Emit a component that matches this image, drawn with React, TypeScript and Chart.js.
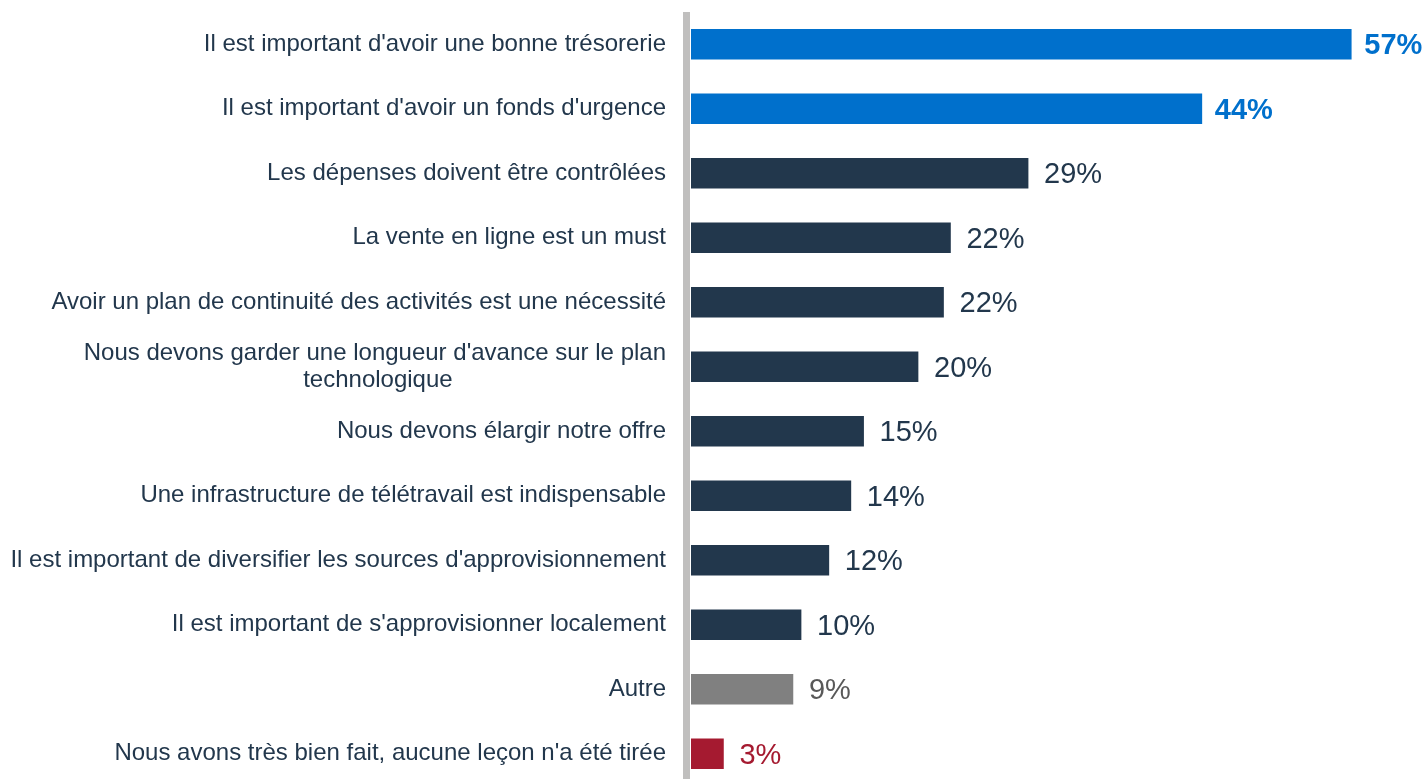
import React, { useEffect, useRef } from "react";
import { Chart, registerables } from "chart.js";

Chart.register(...registerables);

const categories: (string | string[])[] = [
  "Il est important d'avoir une bonne trésorerie",
  "Il est important d'avoir un fonds d'urgence",
  "Les dépenses doivent être contrôlées",
  "La vente en ligne est un must",
  "Avoir un plan de continuité des activités est une nécessité",
  ["Nous devons garder une longueur d'avance sur le plan", "technologique"],
  "Nous devons élargir notre offre",
  "Une infrastructure de télétravail est indispensable",
  "Il est important de diversifier les sources d'approvisionnement",
  "Il est important de s'approvisionner localement",
  "Autre",
  "Nous avons très bien fait, aucune leçon n'a été tirée",
];

const values: number[] = [57, 44.1, 29.1, 22.4, 21.8, 19.6, 14.9, 13.8, 11.9, 9.5, 8.8, 2.8];

const barColors: string[] = [
  "#0070CC", "#0070CC",
  "#22374C", "#22374C", "#22374C", "#22374C", "#22374C", "#22374C", "#22374C", "#22374C",
  "#808080",
  "#A51A30",
];

const labelColors: string[] = [
  "#0070CC", "#0070CC",
  "#22374C", "#22374C", "#22374C", "#22374C", "#22374C", "#22374C", "#22374C", "#22374C",
  "#595959",
  "#A51A30",
];

const boldLabels: boolean[] = [true, true, false, false, false, false, false, false, false, false, false, false];

const FONT = "'Liberation Sans', Arial, Helvetica, sans-serif";

function centerLines(label: string | string[], font: string): string | string[] {
  if (!Array.isArray(label)) return label;
  const c = document.createElement("canvas").getContext("2d")!;
  c.font = font;
  const widths = label.map((l) => c.measureText(l).width);
  const maxW = Math.max(...widths);
  const sp = c.measureText(" ").width;
  return label.map((l, i) => {
    const n = Math.round((maxW - widths[i]) / 2 / sp);
    return l + " ".repeat(n);
  });
}

const valueLabelPlugin = {
  id: "valueLabels",
  afterDatasetsDraw(chart: any) {
    const ctx = chart.ctx;
    const meta = chart.getDatasetMeta(0);
    ctx.save();
    meta.data.forEach((bar: any, i: number) => {
      ctx.font = `${boldLabels[i] ? "bold " : ""}29px ${FONT}`;
      ctx.fillStyle = labelColors[i];
      ctx.textAlign = "left";
      ctx.textBaseline = "middle";
      ctx.fillText(`${Math.round(values[i])}%`, bar.x + (boldLabels[i] ? 13 : 16), bar.y + 2);
    });
    ctx.restore();
  },
};

const axisLinePlugin = {
  id: "axisLine",
  beforeDatasetsDraw(chart: any) {
    const { ctx, chartArea } = chart;
    ctx.save();
    ctx.fillStyle = "#C0BFBE";
    ctx.fillRect(chartArea.left - 8, chartArea.top, 7, chart.height - chartArea.top);
    ctx.restore();
  },
};

export default function App() {
  const ref = useRef<HTMLCanvasElement>(null);

  useEffect(() => {
    if (!ref.current) return;
    const tickFont = `24px ${FONT}`;
    const labels = categories.map((c) => centerLines(c, tickFont));
    const chart = new Chart(ref.current, {
      type: "bar",
      data: {
        labels,
        datasets: [
          {
            data: values,
            backgroundColor: barColors,
            barThickness: 30,
          },
        ],
      },
      options: {
        indexAxis: "y",
        animation: false,
        responsive: true,
        maintainAspectRatio: false,
        layout: { padding: { top: 12, right: 39, bottom: 0, left: 0 } },
        plugins: {
          legend: { display: false },
          tooltip: { enabled: false },
        },
        scales: {
          x: {
            min: 0,
            max: 60,
            display: false,
            grid: { display: false },
          },
          y: {
            grid: { display: false, drawTicks: false },
            border: { display: false },
            afterFit: (scale: any) => {
              scale.width = 691;
              scale.paddingTop = 0;
              scale.paddingBottom = 0;
            },
            ticks: {
              padding: 25,
              color: "#22374C",
              font: { family: FONT, size: 24, lineHeight: 1.1 },
              autoSkip: false,
            },
          },
        },
      },
      plugins: [axisLinePlugin, valueLabelPlugin],
    });
    return () => chart.destroy();
  }, []);

  return (
    <div style={{ position: "fixed", left: 0, top: 0, width: 1425, height: 779, overflow: "hidden", background: "#fff" }}>
      <div style={{ position: "relative", width: 1425, height: 786 }}>
        <canvas ref={ref} />
      </div>
    </div>
  );
}
